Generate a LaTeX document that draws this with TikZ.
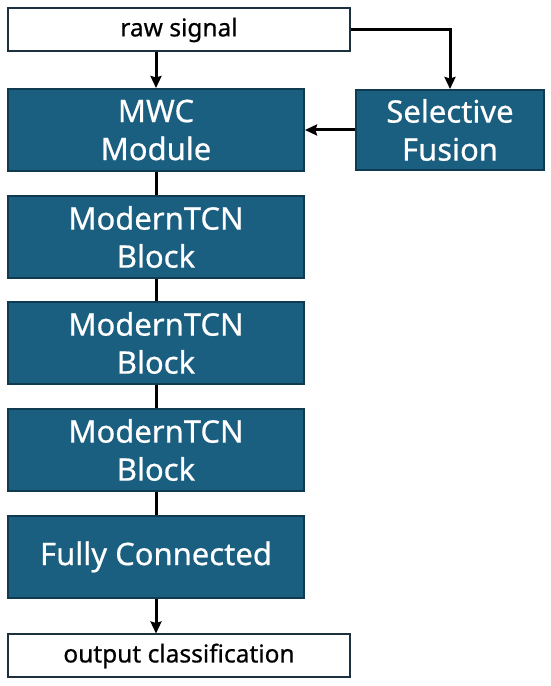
\documentclass[tikz,border=0pt]{standalone}
\usepackage{fontspec}
\setmainfont{Noto Sans}[FakeBold=0.6]
\usetikzlibrary{positioning, arrows.meta, calc}

\definecolor{blockblue}{RGB}{26,94,128}
\definecolor{blockedge}{RGB}{16,58,82}
\definecolor{ioedge}{RGB}{28,48,62}

\begin{document}
\begin{tikzpicture}[
            x=1pt, y=1pt,
            every node/.style={inner sep=0pt},
            block/.style={draw=blockedge, line width=2pt, fill=blockblue, text=white,
                                minimum width=296pt, minimum height=82pt, align=center,
                                font=\fontsize{31}{38}\selectfont},
            iobox/.style={draw=ioedge, line width=2pt, fill=white,
                                minimum width=342pt, minimum height=43pt,
                                font=\fontsize{24.5}{28}\selectfont},
            arrow/.style={-{Stealth[length=12pt, width=11pt, inset=1.5pt]}, line width=3pt},
            link/.style={line width=3pt}
      ]
      \useasboundingbox (0,0) rectangle (550,686);

      % Top row
      \node[iobox] (raw) at (179,656) {raw signal};
      \node[block] (mwc) at (156,556) {MWC\\Module};
      \node[block, minimum width=188pt, minimum height=80pt] (sf) at (450,556) {Selective\\Fusion};

      % Main stack
      \node[block] (tcn1) at (156,449) {ModernTCN\\Block};
      \node[block] (tcn2) at (156,343) {ModernTCN\\Block};
      \node[block] (tcn3) at (156,236) {ModernTCN\\Block};
      \node[block] (fc)   at (156,129) {Fully Connected};
      \node[iobox] (out)  at (179,30)  {output classification};

      \draw[arrow] (mwc.north |- raw.south) -- (mwc.north);
      \draw[arrow] (raw.east) -| (sf.north);
      \draw[arrow] (sf.west) -- (mwc.east);

      \draw[link] (mwc) -- (tcn1);
      \draw[link] (tcn1) -- (tcn2);
      \draw[link] (tcn2) -- (tcn3);
      \draw[link] (tcn3) -- (fc);
      \draw[arrow] (fc.south) -- (fc.south |- out.north);
\end{tikzpicture}
\end{document}
